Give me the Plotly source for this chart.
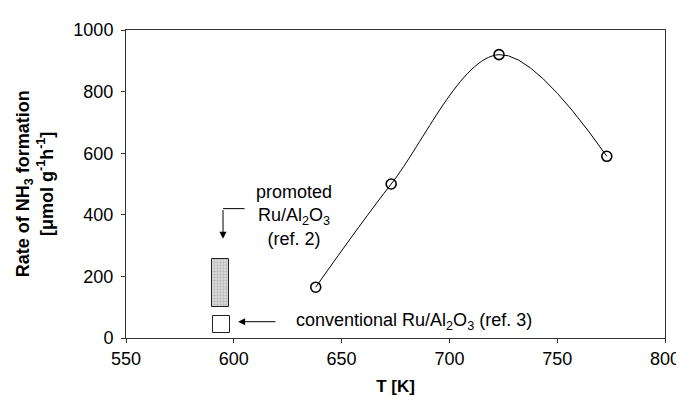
import plotly.graph_objects as go

# data
temps = [638, 673, 723, 773]
rates = [165, 500, 920, 590]

ref_labels = ["promoted Ru/Al2O3 (ref. 2)", "conventional Ru/Al2O3 (ref. 3)"]
ref_x = [594, 594]
ref_low = [100, 15]
ref_high = [258, 70]

x_ticks = [550, 600, 650, 700, 750, 800]
y_ticks = [0, 200, 400, 600, 800, 1000]

FONT = "Liberation Sans, Arial, sans-serif"

fig = go.Figure()

# reference boxes
fig.add_trace(go.Bar(
    x=[ref_x[0]], y=[ref_high[0] - ref_low[0]], base=[ref_low[0]], width=[8],
    marker=dict(color="#c8c8c8", line=dict(color="#222", width=1),
                pattern=dict(shape=".", fgcolor="#909090", bgcolor="#d8d8d8", size=3, solidity=0.3)),
    showlegend=False, hoverinfo="skip"))
fig.add_trace(go.Bar(
    x=[ref_x[1]], y=[ref_high[1] - ref_low[1]], base=[ref_low[1]], width=[8],
    marker=dict(color="white", line=dict(color="#222", width=1)),
    showlegend=False, hoverinfo="skip"))

# curve
fig.add_trace(go.Scatter(
    x=temps, y=rates, mode="lines+markers",
    line=dict(color="black", width=1, shape="spline", smoothing=1.0),
    marker=dict(symbol="circle-open", size=10, color="black", line=dict(width=1.6)),
    showlegend=False))

# elbow line of the vertical arrow
fig.add_trace(go.Scatter(x=[605, 595], y=[420, 420], mode="lines",
                         line=dict(color="black", width=1), showlegend=False, hoverinfo="skip"))

annotations = [
    dict(x=595, y=322, ax=595, ay=420, xref="x", yref="y", axref="x", ayref="y",
         showarrow=True, arrowhead=2, arrowsize=1.4, arrowwidth=1, arrowcolor="black", text=""),
    dict(x=602, y=53, ax=620, ay=53, xref="x", yref="y", axref="x", ayref="y",
         showarrow=True, arrowhead=2, arrowsize=1.4, arrowwidth=1, arrowcolor="black", text=""),
    dict(x=628, y=398, xref="x", yref="y", showarrow=False, xanchor="center", yanchor="middle",
         text="promoted<br>Ru/Al<sub>2</sub>O<sub>3</sub><br>(ref. 2)",
         font=dict(family=FONT, size=18, color="black")),
    dict(x=628, y=53, xref="x", yref="y", showarrow=False, xanchor="left", yanchor="middle",
         text="conventional Ru/Al<sub>2</sub>O<sub>3</sub> (ref. 3)",
         font=dict(family=FONT, size=18, color="black")),
    dict(x=-0.17, y=0.5, xref="paper", yref="paper", showarrow=False, textangle=-90,
         xanchor="center", yanchor="middle",
         text="<b>Rate of NH<sub>3</sub> formation<br>[μmol g<sup>-1</sup>h<sup>-1</sup>]</b>",
         font=dict(family=FONT, size=18, color="black")),
]

fig.update_layout(
    width=684, height=400,
    margin=dict(l=118, r=16, t=18, b=70),
    plot_bgcolor="white", paper_bgcolor="white",
    font=dict(family=FONT, size=18, color="black"),
    annotations=annotations,
    bargap=0,
    xaxis=dict(range=[550, 800], tickvals=x_ticks, ticks="outside", ticklen=4, tickcolor="#333",
               showline=True, linecolor="#333", linewidth=1, mirror=True, showgrid=False,
               zeroline=False, tickfont=dict(size=18),
               title=dict(text="<b>T [K]</b>", font=dict(size=17), standoff=12)),
    yaxis=dict(range=[0, 1000], tickvals=y_ticks, ticks="outside", ticklen=4, tickcolor="#333",
               showline=True, linecolor="#333", linewidth=1, mirror=True, showgrid=False,
               zeroline=False, tickfont=dict(size=18), ticklabelstandoff=4),
)

fig.write_html("out.html")
